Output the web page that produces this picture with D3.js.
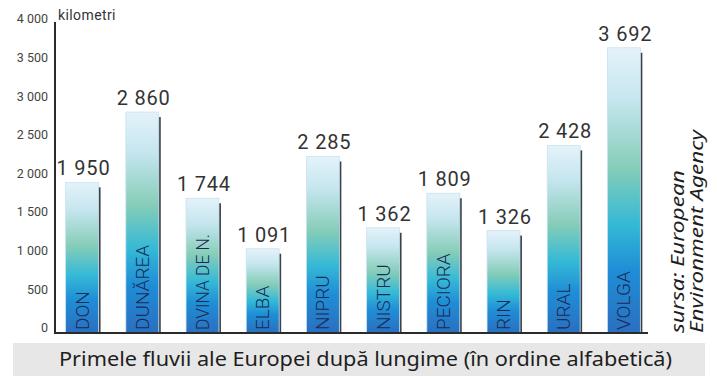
<!DOCTYPE html>
<html>
<head>
<meta charset="utf-8">
<script src="https://cdn.jsdelivr.net/npm/d3@7"></script>
<style>
  html, body { margin: 0; padding: 0; background: #fff; }
  svg { display: block; }
</style>
</head>
<body>
<svg id="chart" width="718" height="376"></svg>
<script>
// River names (alphabetical) and lengths in km
const rivers = ["DON", "DUNĂREA", "DVINA DE N.", "ELBA", "NIPRU", "NISTRU", "PECIORA", "RIN", "URAL", "VOLGA"];
const lengths = [1950, 2860, 1744, 1091, 2285, 1362, 1809, 1326, 2428, 3692];
const yTicks = [0, 500, 1000, 1500, 2000, 2500, 3000, 3500, 4000];
const unitLabel = "kilometri";
const title = "Primele fluvii ale Europei după lungime (în ordine alfabetică)";
const sourceLines = ["sursa: European", "Environment Agency"];

const fmtVal = v => d3.format(",")(v).replace(/,/g, " ");

const svg = d3.select("#chart");
const baseY = 333, axisX = 55;

const x = d3.scaleBand().domain(rivers).range([53, 655]).paddingInner(0.42).paddingOuter(0.21);
const y = d3.scaleLinear().domain([0, 4000]).range([baseY, 24]);

// bar gradient: pale top, green-teal middle, deep blue bottom
const defs = svg.append("defs");
const grad = defs.append("linearGradient").attr("id", "barGrad")
  .attr("x1", 0).attr("y1", 0).attr("x2", 0).attr("y2", 1);
[[0, "#e4f2fa"], [0.18, "#c6e6ef"], [0.42, "#86cdb8"], [0.62, "#34b9d6"], [0.78, "#1f8ed6"], [1, "#2a6fc0"]]
  .forEach(([o, c]) => grad.append("stop").attr("offset", o).attr("stop-color", c));

// y tick labels
svg.append("g").selectAll("text").data(yTicks).join("text")
  .attr("x", 48).attr("y", d => y(d) - 4)
  .attr("text-anchor", "end").attr("dominant-baseline", "middle")
  .attr("font-family", "Roboto, 'Noto Sans', sans-serif").attr("font-size", 12.5)
  .attr("fill", "#444")
  .text(fmtVal);

svg.append("text").attr("x", 58).attr("y", 20)
  .attr("font-family", "Roboto, 'Noto Sans', sans-serif").attr("font-size", 14)
  .attr("letter-spacing", 0.4)
  .attr("fill", "#333").text(unitLabel);

const bars = svg.append("g").selectAll("g").data(rivers.map((r, i) => ({ r, v: lengths[i] }))).join("g");

// right-edge shadow
bars.append("rect")
  .attr("x", d => x(d.r) + x.bandwidth() - 3).attr("width", 3)
  .attr("y", d => y(d.v) + 5).attr("height", d => baseY - y(d.v) - 5)
  .attr("fill", "#3a424c");

// bar body
bars.append("rect")
  .attr("x", d => x(d.r)).attr("width", x.bandwidth() - 2)
  .attr("y", d => y(d.v)).attr("height", d => baseY - y(d.v))
  .attr("fill", "url(#barGrad)")
  .attr("stroke", "#c9e2ee").attr("stroke-width", 0.8);

// value labels
bars.append("text")
  .attr("x", d => x(d.r) + x.bandwidth() / 2 + 0.4).attr("y", d => y(d.v) - 7)
  .attr("text-anchor", "middle")
  .attr("font-family", "Roboto, 'Noto Sans', sans-serif").attr("font-size", 20)
  .attr("letter-spacing", 0.8)
  .attr("fill", "#333")
  .text(d => fmtVal(d.v));

// river names, rotated inside bars
bars.append("text")
  .attr("transform", d => `translate(${x(d.r) + x.bandwidth() / 2 + 5.5},${baseY - 3}) rotate(-90)`)
  .attr("font-family", "Roboto, 'Noto Sans', sans-serif")
  .attr("font-weight", 300)
  .attr("font-size", 19)
  .attr("fill", "#1b2b55")
  .each(function (d) {
    const t = d3.select(this).text(d.r);
    const w = this.getComputedTextLength();
    if (w > 96) t.attr("textLength", 96).attr("lengthAdjust", "spacingAndGlyphs");
  });

// axes
svg.append("line").attr("x1", axisX).attr("x2", axisX).attr("y1", 22).attr("y2", baseY + 1)
  .attr("stroke", "#2b2b2b").attr("stroke-width", 2);
svg.append("line").attr("x1", axisX - 1).attr("x2", 648).attr("y1", baseY).attr("y2", baseY)
  .attr("stroke", "#2b2b2b").attr("stroke-width", 2);

// title band
svg.append("rect").attr("x", 13).attr("y", 343).attr("width", 692).attr("height", 33).attr("fill", "#e7e7e7");
svg.append("text").attr("x", 365.5).attr("y", 366)
  .attr("text-anchor", "middle")
  .attr("font-family", "'Noto Sans', 'Open Sans', sans-serif").attr("font-size", 20)
  .attr("textLength", 613).attr("lengthAdjust", "spacingAndGlyphs")
  .attr("fill", "#1e1e1e")
  .text(title);

// source note
const sourceLen = [163, 203];
svg.append("g").selectAll("text").data(sourceLines).join("text")
  .attr("transform", (d, i) => `translate(${684 + i * 19},333) rotate(-90)`)
  .attr("font-family", "'Noto Sans', 'Open Sans', sans-serif").attr("font-style", "italic")
  .attr("font-size", 18).attr("fill", "#1e1e1e")
  .attr("textLength", (d, i) => sourceLen[i]).attr("lengthAdjust", "spacingAndGlyphs")
  .text(d => d);
</script>
</body>
</html>
